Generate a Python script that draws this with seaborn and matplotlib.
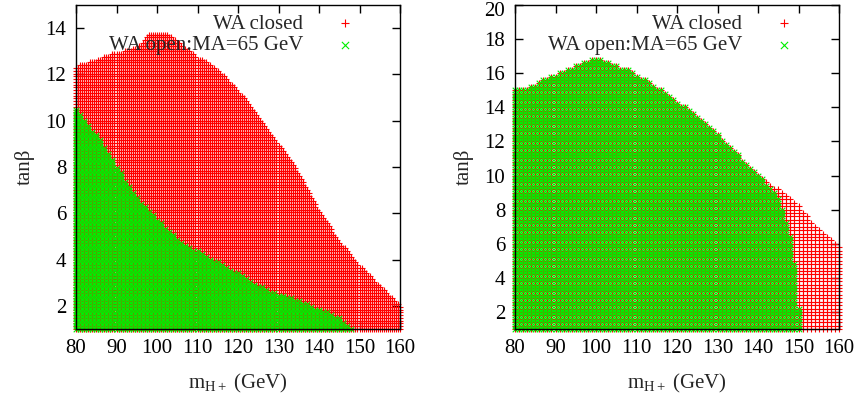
import numpy as np
import pandas as pd
import matplotlib
matplotlib.use("Agg")
import matplotlib.pyplot as plt
import matplotlib.transforms as mtransforms
import seaborn as sns

# Upper edge of the allowed (m_H+, tan beta) region in each scenario
left_closed_mh = [80, 84, 88, 92, 96, 98, 102, 106, 110, 115, 120, 125, 130, 135, 140, 145, 150, 155, 160]
left_closed_tb = [12.35, 12.55, 12.85, 13.0, 13.3, 13.8, 13.8, 13.3, 12.75, 12.2, 11.3, 10.2, 9.0, 7.7, 6.1, 4.8, 3.75, 2.85, 2.0]
left_open_mh = [80, 86, 94, 97.5, 106, 117, 127, 137, 145, 148]
left_open_tb = [10.5, 9.2, 6.9, 6.2, 4.75, 3.7, 2.7, 2.1, 1.5, 1.0]

right_closed_mh = [80, 84, 87, 94, 100, 108, 116, 123, 130, 137, 142, 148.5, 152, 156, 160]
right_closed_tb = [15.05, 15.2, 15.6, 16.3, 16.95, 16.2, 15.05, 13.85, 12.4, 10.75, 9.7, 8.7, 7.6, 6.6, 5.8]
right_open_mh = [80, 84, 87, 94, 100, 108, 116, 123, 130, 137, 144, 145.5, 148.5, 149.5, 150.5]
right_open_tb = [15.05, 15.2, 15.6, 16.3, 16.95, 16.2, 15.05, 13.85, 12.4, 10.75, 9.1, 8.6, 6.0, 3.7, 1.0]

# Scan grid steps (GeV, tan beta) for the closed and open scans of each panel
left_steps = ((0.5, 0.12), (1.0, 0.12))
right_steps = ((1.0, 0.2), (1.0, 0.2))

labels = ["WA closed", "WA open:MA=65 GeV"]
FS = 15


def scan_points(mh_edge, tb_edge, step):
    n_mh = int(round(80.0 / step[0])) + 1
    n_tb = int(round(19.0 / step[1])) + 1
    mh = 80.0 + step[0] * np.arange(n_mh)
    tb = 1.0 + step[1] * np.arange(n_tb)
    M, T = np.meshgrid(mh, tb)
    top = np.interp(M, mh_edge, tb_edge, left=0.0, right=0.0)
    keep = T <= top + 1e-9
    return pd.DataFrame({"mh": M[keep], "tb": T[keep]})


sns.set_style("ticks")
plt.rcParams["font.family"] = ["Liberation Serif", "DejaVu Serif"]
plt.rcParams["mathtext.fontset"] = "custom"
plt.rcParams["mathtext.rm"] = "Liberation Serif"
plt.rcParams["mathtext.it"] = "Liberation Serif:italic"

fig = plt.figure(figsize=(8.6, 4.03), dpi=100)
ax_l = fig.add_axes([76 / 860, 74 / 403, 324 / 860, 324 / 403])
ax_r = fig.add_axes([515 / 860, 74 / 403, 324 / 860, 324 / 403])

panels = [
    (ax_l, left_closed_mh, left_closed_tb, left_open_mh, left_open_tb, left_steps, 15, range(2, 15, 2)),
    (ax_r, right_closed_mh, right_closed_tb, right_open_mh, right_open_tb, right_steps, 20, range(2, 21, 2)),
]

for ax, cmh, ctb, omh, otb, steps, ymax, yticks in panels:
    closed = scan_points(cmh, ctb, steps[0])
    opened = scan_points(omh, otb, steps[1])
    sns.scatterplot(data=closed, x="mh", y="tb", marker="+", color="#ff0000",
                    s=20, linewidth=0.8, ax=ax, label=labels[0], clip_on=False, zorder=1)
    sns.scatterplot(data=opened, x="mh", y="tb", marker="x", color="#00ee00",
                    s=16, linewidth=0.8, ax=ax, label=labels[1], clip_on=False, zorder=1.1)
    ax.set_xlim(80, 160)
    ax.set_ylim(1, ymax)
    ax.set_xticks(range(80, 161, 10))
    ax.set_yticks(list(yticks))
    ax.tick_params(direction="in", length=6, width=1, top=True, right=True,
                   labelsize=FS, pad=7, colors="black")
    for sp in ax.spines.values():
        sp.set_visible(True)
        sp.set_linewidth(1.0)
        sp.set_color("black")
        sp.set_zorder(5)
    ax.set_xlabel(r"m$_{\mathrm{H+}}$ (GeV)", fontsize=FS, labelpad=10)
    ax.set_ylabel(r"tanβ", fontsize=FS, labelpad=8)
    ax.legend(loc="upper right", bbox_to_anchor=(0.9, 0.978), markerfirst=False,
              frameon=False, fontsize=FS, handletextpad=1.0, handlelength=2.0,
              labelspacing=0.1, borderaxespad=0.0, borderpad=0.1, markerscale=1.3)

# keep the topmost y tick label of the right panel inside the figure
fig.canvas.draw()
top_label = ax_r.get_yticklabels()[-1]
top_label.set_transform(top_label.get_transform()
                        + mtransforms.ScaledTranslation(0, -4 / 100, fig.dpi_scale_trans))

fig.savefig("out.png", dpi=100)
